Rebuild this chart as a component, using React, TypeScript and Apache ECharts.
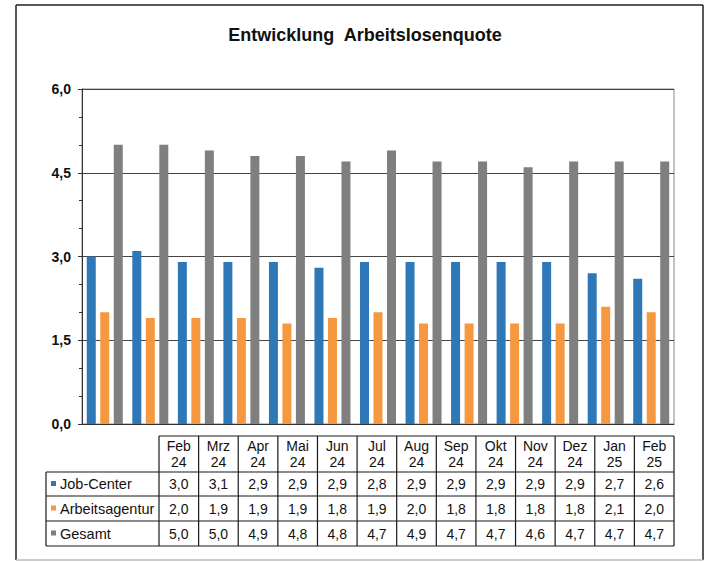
import React, { useEffect, useRef } from 'react';
import * as echarts from 'echarts';

const categories = ['Feb 24', 'Mrz 24', 'Apr 24', 'Mai 24', 'Jun 24', 'Jul 24', 'Aug 24', 'Sep 24', 'Okt 24', 'Nov 24', 'Dez 24', 'Jan 25', 'Feb 25'];
const jobCenter = [3.0, 3.1, 2.9, 2.9, 2.9, 2.8, 2.9, 2.9, 2.9, 2.9, 2.9, 2.7, 2.6];
const arbeitsagentur = [2.0, 1.9, 1.9, 1.9, 1.8, 1.9, 2.0, 1.8, 1.8, 1.8, 1.8, 2.1, 2.0];
const gesamt = [5.0, 5.0, 4.9, 4.8, 4.8, 4.7, 4.9, 4.7, 4.7, 4.6, 4.7, 4.7, 4.7];
const seriesNames = ['Job-Center', 'Arbeitsagentur', 'Gesamt'];
const seriesColors = ['#2e78b7', '#f5983f', '#7f7f7f'];
const title = 'Entwicklung  Arbeitslosenquote';

const FONT = '"Liberation Sans", Arial, sans-serif';
const fmt = (v: number) => v.toFixed(1).replace('.', ',');

function buildTable(): any[] {
  const els: any[] = [];
  const labelLeft = 46;
  const colLeft = 159;
  const right = 674;
  const headTop = 436;
  const rowTops = [472, 496, 521, 546];
  const n = categories.length;
  const w = (right - colLeft) / n;
  const stroke = '#1a1a1a';
  const line = (x1: number, y1: number, x2: number, y2: number) => ({
    type: 'line',
    shape: { x1, y1, x2, y2 },
    style: { stroke, lineWidth: 1.2 },
    silent: true,
  });
  els.push(line(colLeft, headTop, right, headTop));
  rowTops.forEach((y) => els.push(line(labelLeft, y, right, y)));
  els.push(line(labelLeft, rowTops[0], labelLeft, rowTops[3]));
  for (let i = 0; i <= n; i++) {
    const x = colLeft + i * w;
    els.push(line(x, headTop, x, rowTops[3]));
  }
  categories.forEach((c, i) => {
    const [m, y] = c.split(' ');
    const cx = colLeft + (i + 0.5) * w;
    els.push({
      type: 'text',
      x: cx,
      y: (headTop + rowTops[0]) / 2,
      style: {
        text: m + '\n' + y,
        font: `14px ${FONT}`,
        fill: '#111',
        align: 'center',
        verticalAlign: 'middle',
        lineHeight: 16,
      },
      silent: true,
    });
  });
  const rows = [jobCenter, arbeitsagentur, gesamt];
  rows.forEach((vals, r) => {
    const yc = (rowTops[r] + rowTops[r + 1]) / 2;
    els.push({
      type: 'rect',
      shape: { x: 51, y: yc - 3, width: 5, height: 5 },
      style: { fill: seriesColors[r] },
      silent: true,
    });
    els.push({
      type: 'text',
      x: 60,
      y: yc,
      style: {
        text: seriesNames[r],
        font: `14.5px ${FONT}`,
        fill: '#111',
        align: 'left',
        verticalAlign: 'middle',
      },
      silent: true,
    });
    vals.forEach((v, i) => {
      els.push({
        type: 'text',
        x: colLeft + (i + 0.5) * w,
        y: yc,
        style: {
          text: fmt(v),
          font: `14px ${FONT}`,
          fill: '#111',
          align: 'center',
          verticalAlign: 'middle',
        },
        silent: true,
      });
    });
  });
  return els;
}

export default function App() {
  const ref = useRef<HTMLDivElement>(null);
  useEffect(() => {
    if (!ref.current) return;
    const chart = echarts.init(ref.current, undefined, { renderer: 'svg' });
    const frame: any[] = [
      { type: 'line', shape: { x1: 16, y1: 5, x2: 16, y2: 560 }, style: { stroke: '#222', lineWidth: 1.5 }, silent: true },
      { type: 'line', shape: { x1: 16, y1: 5, x2: 703, y2: 5 }, style: { stroke: '#222', lineWidth: 1.5 }, silent: true },
      { type: 'line', shape: { x1: 703, y1: 5, x2: 703, y2: 560 }, style: { stroke: '#222', lineWidth: 1.5 }, silent: true },
      { type: 'line', shape: { x1: 16, y1: 560, x2: 703, y2: 560 }, style: { stroke: '#bbb', lineWidth: 1.5 }, silent: true },
    ];
    chart.setOption({
      animation: false,
      backgroundColor: '#fff',
      title: {
        text: title,
        left: 360,
        top: 21,
        textAlign: 'center',
        textStyle: { fontFamily: FONT, fontSize: 18, fontWeight: 'bold', color: '#111' },
      },
      grid: {
        left: 82,
        top: 89,
        right: 39,
        bottom: 138,
        show: true,
        borderColor: '#888',
        borderWidth: 1,
        backgroundColor: 'transparent',
      },
      xAxis: {
        type: 'category',
        data: categories,
        axisLabel: { show: false },
        axisTick: { show: false },
        axisLine: { show: true, lineStyle: { color: '#333', width: 1 } },
      },
      yAxis: {
        type: 'value',
        min: 0,
        max: 6,
        interval: 1.5,
        axisLine: { show: true, lineStyle: { color: '#333', width: 1 } },
        axisTick: { show: true, inside: false, length: 4, lineStyle: { color: '#333' } },
        minorTick: { show: true, splitNumber: 3, length: 3, lineStyle: { color: '#333' } },
        splitLine: { show: true, lineStyle: { color: '#444', width: 1 } },
        axisLabel: {
          formatter: (v: number) => fmt(v),
          fontFamily: FONT,
          fontSize: 14,
          fontWeight: 'bold',
          color: '#111',
          margin: 11,
        },
      },
      series: [jobCenter, arbeitsagentur, gesamt].map((d, i) => ({
        type: 'bar',
        name: seriesNames[i],
        data: d,
        barWidth: 9,
        barGap: '50%',
        itemStyle: { color: seriesColors[i] },
      })),
      graphic: [...frame, ...buildTable()],
    });
    return () => chart.dispose();
  }, []);
  return <div ref={ref} style={{ position: 'fixed', left: 0, top: 0, width: 713, height: 562 }} />;
}
